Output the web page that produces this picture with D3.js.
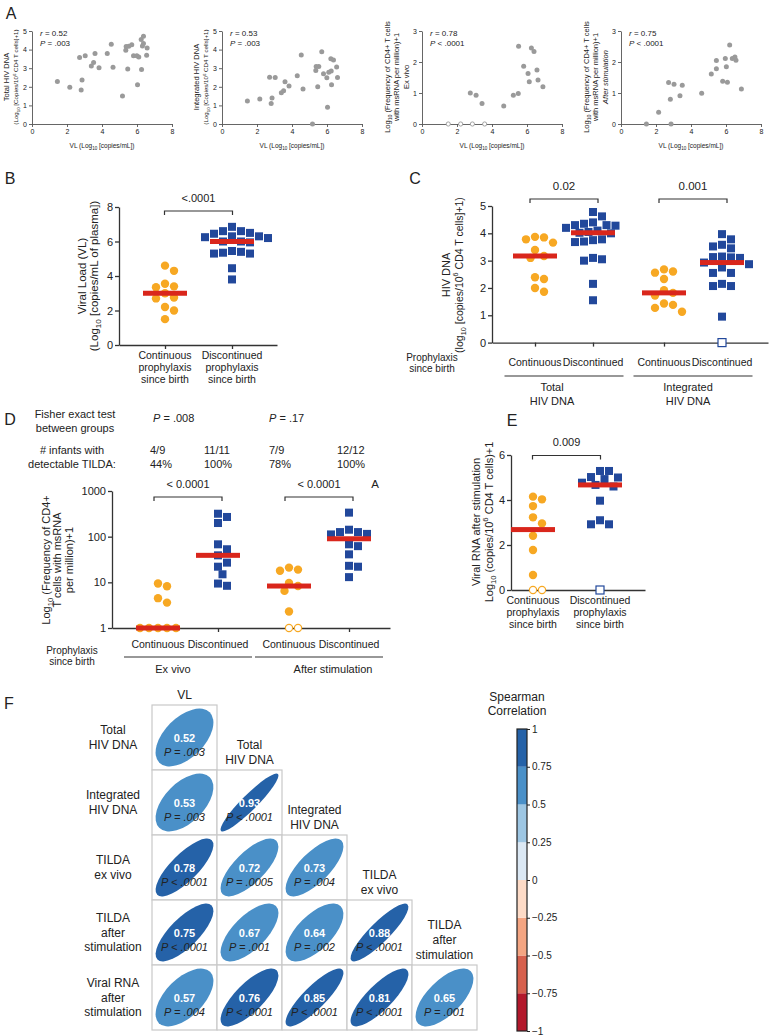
<!DOCTYPE html>
<html>
<head>
<meta charset="utf-8">
<script src="https://cdn.jsdelivr.net/npm/d3@7"></script>
<style>
  body { margin: 0; background: #fff; }
  svg { display: block; }
</style>
</head>
<body>
<svg id="fig" width="771" height="1036"></svg>
<script>
// ---------------- data ----------------
// panel A : [VL, value]
const aTotal = [[1.45,2.29],[2.16,1.97],[2.72,3.58],[2.86,2.36],[2.81,1.83],[3.04,3.67],[3.39,3.12],[3.52,3.3],[3.6,3.79],[3.83,3.03],[4.3,3.79],[4.53,4.29],[4.63,3.05],[5.17,1.51],[5.36,3.97],[5.38,4.17],[5.47,2.96],[5.53,4.18],[5.7,4.26],[5.8,3.67],[5.99,3.67],[6.03,2.11],[6.1,3.6],[6.24,4.54],[6.31,4.2],[6.37,4.72],[6.26,2.93],[6.37,4.33],[6.58,4.08],[6.55,3.7]];
const aIntegrated = [[1.45,1.24],[2.16,1.35],[2.72,2.52],[2.86,1.4],[2.81,1.1],[3.04,2.5],[3.39,1.68],[3.52,1.79],[3.6,2.27],[3.83,2.04],[4.3,2.6],[4.53,3.71],[4.63,1.88],[5.17,0],[5.36,2.87],[5.38,3.09],[5.47,2.0],[5.53,3.09],[5.7,3.88],[5.8,2.7],[5.99,2.48],[6.03,0.9],[6.1,2.78],[6.22,3.51],[6.24,2.85],[6.26,2.11],[6.37,3.44],[6.55,3.07],[6.6,2.5]];
const aTildaEx = [[2.76,1.0],[3.09,0.93],[3.43,0.66],[4.67,0.58],[5.22,0.93],[5.5,0.98],[5.52,2.51],[5.81,1.86],[6.06,1.63],[6.13,1.36],[6.25,2.45],[6.4,2.34],[6.57,1.74],[6.63,1.42],[6.91,1.2]];
const aTildaExUndet = [[1.5,0],[2.21,0],[2.88,0],[3.58,0]];
const aTildaStim = [[1.45,0],[2.15,0.38],[2.72,1.34],[2.82,0.8],[2.86,0],[3.03,1.28],[3.37,0.91],[3.5,1.25],[4.61,0.99],[5.16,1.61],[5.45,2.05],[5.45,1.78],[5.81,1.38],[5.96,2.11],[6.02,1.85],[6.08,1.35],[6.21,2.55],[6.36,2.11],[6.51,2.16],[6.57,2.06],[6.88,1.13]];
const aXTicks = [0, 2, 4, 6, 8];
const aXLabel = "VL (Log_{10} [copies/mL])";
const aYLabels = [
  ["Total HIV DNA", "(Log_{10} [Copies/10^{6} CD4 T cells]+1)"],
  ["Integrated HIV DNA", "(Log_{10} [Copies/10^{6} CD4 T cells]+1)"],
  ["Log_{10} (Frequency of CD4+ T cells", "with msRNA per million)+1", "Ex vivo"],
  ["Log_{10} (Frequency of CD4+ T cells", "with msRNA per million)+1", "*After stimulation*"]
];
const aStats = [["*r* = 0.52", "*P* = .003"], ["*r* = 0.53", "*P* = .003"], ["*r* = 0.78", "*P* < .0001"], ["*r* = 0.75", "*P* < .0001"]];

// panel B
const bCats = ["Continuous\nprophylaxis\nsince birth", "Discontinued\nprophylaxis\nsince birth"];
const bContinuous = [4.6, 4.3, 3.55, 3.4, 3.35, 3.0, 2.75, 2.7, 2.2, 2.0, 1.5];
const bDiscontinued = [6.85, 6.6, 6.6, 6.5, 6.45, 6.3, 6.3, 6.25, 6.2, 6.0, 6.0, 5.95, 5.45, 5.4, 5.35, 5.3, 5.3, 4.45, 3.8];
const bYTicks = [0, 2, 4, 6, 8];
const bPval = "<.0001";

// panel C
const cGroups = ["Total\nHIV DNA", "Integrated\nHIV DNA"];
const cCats = ["Continuous", "Discontinued"];
const cTotalCont = [3.87, 3.85, 3.78, 3.66, 3.39, 3.17, 3.1, 2.39, 2.33, 2.0, 1.86];
const cTotalDisc = [4.78, 4.62, 4.4, 4.35, 4.3, 4.3, 4.28, 4.2, 4.1, 4.05, 4.02, 4.0, 3.78, 3.75, 3.7, 3.68, 3.1, 3.05, 3.0, 2.15, 1.55];
const cIntCont = [2.68, 2.6, 2.56, 2.33, 1.92, 1.82, 1.72, 1.43, 1.38, 1.27, 1.13];
const cIntDisc = [3.97, 3.78, 3.58, 3.52, 3.45, 3.15, 3.13, 3.12, 3.1, 2.93, 2.87, 2.75, 2.55, 2.55, 2.15, 2.07, 2.07, 0.95];
const cIntDiscUndet = [0];
const cYTicks = [0, 1, 2, 3, 4, 5];
const cPvals = ["0.02", "0.001"];

// panel D
const dGroups = ["Ex vivo", "After stimulation"];
const dExCont = [9.4, 8.2, 4.5, 3.6, 1, 1, 1, 1, 1];
const dExDisc = [318, 270, 199, 68, 53, 39, 27, 22, 15, 9.4, 8.4];
const dStimCont = [21, 19, 18, 9.7, 8.3, 6.5, 2.3];
const dStimContUndet = [1, 1];
const dStimDisc = [336, 142, 126, 126, 115, 112, 68, 62, 41, 23, 22, 13];
const dYTicks = [1, 10, 100, 1000];
const dPvals = ["< 0.0001", "< 0.0001"];
const dFisher = ["*P* = .008", "*P* = .17"];
const dCounts = ["4/9", "11/11", "7/9", "12/12"];
const dPercents = ["44%", "100%", "78%", "100%"];

// panel E
const eCats = bCats;
const eCont = [4.15, 4.03, 3.73, 3.23, 2.96, 2.41, 1.78, 0.67];
const eContUndet = [0, 0];
const eDisc = [5.29, 5.29, 5.02, 5.0, 4.93, 4.77, 4.67, 4.6, 3.97, 3.1, 2.92, 2.92];
const eDiscUndet = [0];
const eYTicks = [0, 2, 4, 6];
const ePval = "0.009";

// panel F
const fRowLabels = [["Total", "HIV DNA"], ["Integrated", "HIV DNA"], ["TILDA", "ex vivo"], ["TILDA", "after", "stimulation"], ["Viral RNA", "after", "stimulation"]];
const fColLabels = [["VL"], ["Total", "HIV DNA"], ["Integrated", "HIV DNA"], ["TILDA", "ex vivo"], ["TILDA", "after", "stimulation"]];
const fR = [[0.52], [0.53, 0.93], [0.78, 0.72, 0.73], [0.75, 0.67, 0.64, 0.88], [0.57, 0.76, 0.85, 0.81, 0.65]];
const fP = [["P = .003"], ["P = .003", "P < .0001"], ["P < .0001", "P = .0005", "P = .004"],
            ["P < .0001", "P = .001", "P = .002", "P < .0001"], ["P = .004", "P < .0001", "P < .0001", "P < .0001", "P = .001"]];
const legendTicks = [1, 0.75, 0.5, 0.25, 0, -0.25, -0.5, -0.75, -1];
const legendBreaks = [-0.75, -0.5, -0.25, 0, 0.25, 0.5, 0.75];
const rdbu = ["#b2182b", "#d6604d", "#f4a582", "#fddbc7", "#dbe8f4", "#9dc6e3", "#4a90c8", "#2562a8"];

// ---------------- helpers ----------------
const FONT = 'Arial, "Liberation Sans", sans-serif';
const INK = "#222";
const ORANGE = "#f7a823", BLUE = "#22489b", RED = "#d9261c", GRAY = "#9a9a9a";

const svg = d3.select("#fig").attr("font-family", FONT);

// tiny markup: _{sub} ^{sup} *italic*
function rich(t, str, fs) {
  const parts = str.split(/(_\{[^}]*\}|\^\{[^}]*\}|\*[^*]+\*)/).filter(s => s !== "");
  let cur = 0;
  parts.forEach(p => {
    let s = p, off = 0, small = false, ital = false;
    if (p.startsWith("_{")) { s = p.slice(2, -1); off = fs * 0.3; small = true; }
    else if (p.startsWith("^{")) { s = p.slice(2, -1); off = -fs * 0.4; small = true; }
    else if (p[0] === "*") { s = p.slice(1, -1); ital = true; }
    const ts = t.append("tspan").text(s);
    if (off !== cur) ts.attr("dy", off - cur);
    if (small) ts.attr("font-size", fs * 0.7);
    if (ital) ts.attr("font-style", "italic");
    cur = off;
  });
}

// x,y = visual centre of the line
function txt(g, x, y, str, fs, o = {}) {
  const t = g.append("text")
    .attr("font-size", fs)
    .attr("text-anchor", o.anchor || "middle")
    .attr("fill", o.fill || INK);
  if (o.rotate) t.attr("transform", `translate(${x + fs * 0.35},${y}) rotate(-90)`);
  else t.attr("x", x).attr("y", y + fs * 0.35);
  if (o.weight) t.attr("font-weight", o.weight);
  if (o.italic) t.attr("font-style", "italic");
  rich(t, str, fs);
  return t;
}
function lines(g, x, y0, arr, fs, lh, o) {
  arr.forEach((s, i) => txt(g, x, y0 + i * lh, s, fs, o));
}

function styleAxis(g, fs, col, sw) {
  g.attr("font-family", FONT);
  g.selectAll(".domain, .tick line").attr("stroke", col).attr("stroke-width", sw);
  g.selectAll(".tick text").attr("font-size", fs).attr("fill", INK);
}

function yAxis(g, x, scale, ticks, fmt) {
  g.append("g").attr("transform", `translate(${x},0)`)
    .call(d3.axisLeft(scale).tickValues(ticks).tickSize(4).tickSizeOuter(0).tickPadding(2)
      .tickFormat(fmt || d3.format("d")))
    .call(styleAxis, 11, "#333", 1.3);
}
function xAxis(g, y, x0, x1, ticks) {
  const id = d3.scaleLinear().domain([x0, x1]).range([x0, x1]);
  g.append("g").attr("transform", `translate(0,${y})`)
    .call(d3.axisBottom(id).tickValues(ticks).tickSize(4).tickSizeOuter(0).tickFormat(""))
    .call(styleAxis, 11, "#333", 1.3);
}

// deterministic beeswarm
function swarm(points, y, d) {
  const pts = points.map(p => ({ ...p, y: y(p.v) })).sort((a, b) => a.y - b.y);
  const placed = [];
  pts.forEach(p => {
    for (let k = 0; k < 60; k++) {
      const dx = (k % 2 ? 1 : -1) * Math.ceil(k / 2) * d / 2 || 0;
      if (placed.every(q => Math.hypot(q.dx - dx, q.y - p.y) >= d * 0.98)) {
        p.dx = dx; placed.push(p); break;
      }
    }
  });
  return placed;
}

function drawGroup(g, cx, y, vals, undet, shape) {
  const color = shape === "square" ? BLUE : ORANGE;
  const all = vals.concat(undet);
  const pts = swarm(vals.map(v => ({ v, open: false })).concat(undet.map(v => ({ v, open: true }))), y, 9);
  const gg = g.append("g");
  if (shape === "square") {
    gg.selectAll("rect").data(pts).join("rect")
      .attr("x", d => cx + d.dx - 4).attr("y", d => d.y - 4)
      .attr("width", 8).attr("height", 8)
      .attr("fill", d => d.open ? "#fff" : color)
      .attr("stroke", d => d.open ? color : "none").attr("stroke-width", 1.2);
  } else {
    gg.selectAll("circle").data(pts).join("circle")
      .attr("cx", d => cx + d.dx).attr("cy", d => d.y).attr("r", d => d.open ? 3.6 : 4.2)
      .attr("fill", d => d.open ? "#fff" : color)
      .attr("stroke", d => d.open ? color : "none").attr("stroke-width", 1.2);
  }
  gg.append("rect")
    .attr("x", cx - 22).attr("y", y(d3.median(all)) - 2.5)
    .attr("width", 44).attr("height", 5).attr("fill", RED);
}

function bracket(g, xa, xb, y, label, fs) {
  const m = (xa + xb) / 2;
  g.append("path")
    .attr("d", `M${m - 34},${y + 4}V${y}H${m + 34}V${y + 4}`)
    .attr("fill", "none").attr("stroke", "#333").attr("stroke-width", 1.2);
  txt(g, m, y - 13, label, fs);
}

// ---------------- panel A ----------------
const gA = svg.append("g");
txt(gA, 11, 13, "A", 16);
const aPlots = [
  { x0: 32, ymax: 5, pts: aTotal, undet: [], ylabSize: [7.5, 6.2] },
  { x0: 222, ymax: 5, pts: aIntegrated, undet: [], ylabSize: [7.5, 6.2] },
  { x0: 422, ymax: 3, pts: aTildaEx, undet: aTildaExUndet, ylabSize: [7.5, 7.5, 7.5] },
  { x0: 621, ymax: 3, pts: aTildaStim, undet: [], ylabSize: [7.5, 7.5, 7.5] }
];
aPlots.forEach((pl, i) => {
  const x = d3.scaleLinear().domain([0, 8]).range([pl.x0, pl.x0 + 140]);
  const y = d3.scaleLinear().domain([0, pl.ymax]).range([124, 31]);
  gA.append("g").attr("transform", "translate(0,124)")
    .call(d3.axisBottom(x).tickValues(aXTicks).tickSize(3).tickSizeOuter(0).tickPadding(2).tickFormat(d3.format("d")))
    .call(styleAxis, 7, "#555", 0.9);
  gA.append("g").attr("transform", `translate(${pl.x0},0)`)
    .call(d3.axisLeft(y).tickValues(d3.range(0, pl.ymax + 1)).tickSize(3).tickSizeOuter(0).tickPadding(2).tickFormat(d3.format("d")))
    .call(styleAxis, 7, "#555", 0.9);
  gA.append("g").selectAll("circle").data(pl.pts).join("circle")
    .attr("cx", d => x(d[0])).attr("cy", d => y(d[1])).attr("r", 2.5).attr("fill", GRAY);
  gA.append("g").selectAll("circle").data(pl.undet).join("circle")
    .attr("cx", d => x(d[0])).attr("cy", d => y(d[1])).attr("r", 2.1)
    .attr("fill", "#fff").attr("stroke", GRAY).attr("stroke-width", 0.9);
  lines(gA, pl.x0 + 8, 33, aStats[i], 8, 10, { anchor: "start" });
  txt(gA, pl.x0 + 70, 146, aXLabel, 6.5);
  const labs = aYLabels[i], n = labs.length;
  labs.forEach((s, k) => txt(gA, pl.x0 - 16 - (n - 1 - k) * 9.3, 77, s, pl.ylabSize[k], { rotate: true }));
});

// ---------------- panel B ----------------
const gB = svg.append("g");
txt(gB, 10, 178, "B", 16);
const bY = d3.scaleLinear().domain([0, 8]).range([345, 207]);
const bX = d3.scalePoint().domain(bCats).range([165, 232]);
yAxis(gB, 119, bY, bYTicks);
xAxis(gB, 345, 119, 277, bCats.map(bX));
drawGroup(gB, bX(bCats[0]), bY, bContinuous, [], "circle");
drawGroup(gB, bX(bCats[1]), bY, bDiscontinued, [], "square");
bracket(gB, bX(bCats[0]), bX(bCats[1]), 211, bPval, 11);
bCats.forEach(c => lines(gB, bX(c), 355, c.split("\n"), 10.5, 12));
txt(gB, 82, 276, "Viral Load (VL)", 11.5, { rotate: true });
txt(gB, 94, 276, "(Log_{10} [copies/mL of plasma])", 11.5, { rotate: true });

// ---------------- panel C ----------------
const gC = svg.append("g");
txt(gC, 415, 178, "C", 16);
const cY = d3.scaleLinear().domain([0, 5]).range([342.6, 206]);
const cOuter = d3.scalePoint().domain(cGroups).range([564, 693]);
const cInner = d3.scalePoint().domain(cCats).range([-29, 29]);
const cSeries = [
  [cTotalCont, [], "circle"], [cTotalDisc, [], "square"],
  [cIntCont, [], "circle"], [cIntDisc, cIntDiscUndet, "square"]
];
const cPos = [];
cGroups.forEach(gr => cCats.forEach(ct => cPos.push(cOuter(gr) + cInner(ct))));
yAxis(gC, 492, cY, cYTicks);
xAxis(gC, 342.6, 492, 768, cPos);
cSeries.forEach((s, i) => drawGroup(gC, cPos[i], cY, s[0], s[1], s[2]));
const cLabelShift = [-12, -5];
cGroups.forEach((gr, i) => {
  bracket(gC, cPos[2 * i], cPos[2 * i + 1], 199, cPvals[i], 11.5);
  cCats.forEach(ct => txt(gC, cOuter(gr) + cInner(ct), 362, ct, 10.5));
  gC.append("line").attr("x1", cOuter(gr) - 59.5).attr("x2", cOuter(gr) + 59.5)
    .attr("y1", 376).attr("y2", 376).attr("stroke", "#333").attr("stroke-width", 1.2);
  lines(gC, cOuter(gr) + cLabelShift[i], 387, gr.split("\n"), 11, 14);
});
lines(gC, 432, 357, ["Prophylaxis", "since birth"], 10, 11.5);
txt(gC, 446, 275, "HIV DNA", 11, { rotate: true });
txt(gC, 459, 275, "(log_{10} [copies/10^{6} CD4 T cells]+1)", 10.5, { rotate: true });

// ---------------- panel D ----------------
const gD = svg.append("g");
txt(gD, 10, 419, "D", 16);
lines(gD, 75, 414, ["Fisher exact test", "between groups"], 11, 14);
lines(gD, 72, 450, ["# infants with", "detectable TILDA:"], 11, 14);
const dFisherX = [153, 269];
const dCountX = [150, 204, 269, 337];
dFisher.forEach((s, i) => txt(gD, dFisherX[i], 418, s, 11, { anchor: "start" }));
dCounts.forEach((s, i) => txt(gD, dCountX[i], 450, s, 11, { anchor: "start" }));
dPercents.forEach((s, i) => txt(gD, dCountX[i], 464, s, 11, { anchor: "start" }));

const dY = d3.scaleLog().domain([1, 1000]).range([628, 491]);
const dOuter = d3.scalePoint().domain(dGroups).range([188, 319]);
const dInner = d3.scalePoint().domain(cCats).range([-30, 30]);
const dPos = [];
dGroups.forEach(gr => cCats.forEach(ct => dPos.push(dOuter(gr) + dInner(ct))));
yAxis(gD, 112, dY, dYTicks);
xAxis(gD, 628, 112, 390, dPos);
const dSeries = [
  [dExCont, [], "circle"], [dExDisc, [], "square"],
  [dStimCont, dStimContUndet, "circle"], [dStimDisc, [], "square"]
];
dSeries.forEach((s, i) => drawGroup(gD, dPos[i], dY, s[0], s[1], s[2]));
const dLabelShift = [-15, 14];
dGroups.forEach((gr, i) => {
  bracket(gD, dPos[2 * i], dPos[2 * i + 1], 497, dPvals[i], 11);
  cCats.forEach(ct => txt(gD, dOuter(gr) + dInner(ct), 644, ct, 10.5));
  gD.append("line").attr("x1", dOuter(gr) - 64).attr("x2", dOuter(gr) + 64)
    .attr("y1", 657).attr("y2", 657).attr("stroke", "#333").attr("stroke-width", 1.2);
  txt(gD, dOuter(gr) + dLabelShift[i], 669, gr, 11);
});
txt(gD, 375, 484, "A", 11.5);
lines(gD, 72, 650, ["Prophylaxis", "since birth"], 10, 11.5);
txt(gD, 46, 560, "Log_{10} (Frequency of CD4+", 11, { rotate: true });
txt(gD, 57.5, 560, "T cells with msRNA", 11, { rotate: true });
txt(gD, 69, 560, "per million)+1", 11, { rotate: true });

// ---------------- panel E ----------------
const gE = svg.append("g");
txt(gE, 512, 420, "E", 16);
const eY = d3.scaleLinear().domain([0, 6]).range([590, 455]);
const eX = d3.scalePoint().domain(eCats).range([533, 600]);
yAxis(gE, 511, eY, eYTicks);
xAxis(gE, 590, 511, 645, eCats.map(eX));
drawGroup(gE, eX(eCats[0]), eY, eCont, eContUndet, "circle");
drawGroup(gE, eX(eCats[1]), eY, eDisc, eDiscUndet, "square");
bracket(gE, eX(eCats[0]), eX(eCats[1]), 455.5, ePval, 11);
eCats.forEach(c => lines(gE, eX(c), 600, c.split("\n"), 10.5, 12));
txt(gE, 476, 522, "Viral RNA after stimulation", 11, { rotate: true });
txt(gE, 489, 522, "Log_{10} (copies/10^{6} CD4 T cells)+1", 11, { rotate: true });

// ---------------- panel F ----------------
const gF = svg.append("g");
txt(gF, 9, 703, "F", 16);
const fIdx = d3.range(fR.length);
const fCol = d3.scaleBand().domain(fIdx).range([152, 477]);
const fRow = d3.scaleBand().domain(fIdx).range([705, 1030]);
const fColor = d3.scaleThreshold().domain(legendBreaks).range(rdbu);
const cw = fCol.bandwidth();
const k = cw * 0.445;

fR.forEach((row, i) => row.forEach((r, j) => {
  const x = fCol(j), y = fRow(i);
  const cg = gF.append("g").attr("transform", `translate(${x},${y})`);
  cg.append("rect").attr("width", cw).attr("height", fRow.bandwidth())
    .attr("fill", "#fff").attr("stroke", "#c9c9c9").attr("stroke-width", 1.2);
  cg.append("ellipse")
    .attr("transform", `translate(${cw / 2},${cw / 2}) rotate(-45)`)
    .attr("rx", k * Math.sqrt(1 + r)).attr("ry", k * Math.sqrt(1 - r))
    .attr("fill", fColor(r));
  txt(cg, cw / 2, cw / 2 + 1, d3.format(".2f")(r), 11, { fill: "#fff", weight: "bold" });
  txt(cg, cw / 2, cw / 2 + 14.5, fP[i][j], 11, { italic: true });
}));
fRowLabels.forEach((lab, i) => {
  const cy = fRow(i) + fRow.bandwidth() / 2 - (lab.length - 1) * 14.5 / 2;
  lines(gF, 113, cy, lab, 12, 14.5);
});
fColLabels.forEach((lab, j) => {
  const bottom = fRow(j) - 10;
  lines(gF, fCol(j) + cw / 2, bottom - (lab.length - 1) * 15, lab, 12, 15);
});

// colour legend
const lg = gF.append("g");
const lY = d3.scaleLinear().domain([-1, 1]).range([1031, 729]);
const edges = [-1].concat(legendBreaks, [1]);
lg.selectAll("rect.bin").data(d3.pairs(edges)).join("rect").attr("class", "bin")
  .attr("x", 517).attr("width", 10)
  .attr("y", d => lY(d[1])).attr("height", d => lY(d[0]) - lY(d[1]))
  .attr("fill", d => fColor((d[0] + d[1]) / 2));
lg.append("rect").attr("x", 517).attr("y", lY(1)).attr("width", 10).attr("height", lY(-1) - lY(1))
  .attr("fill", "none").attr("stroke", "#222").attr("stroke-width", 1.2);
lg.append("g").attr("transform", "translate(527,0)")
  .call(d3.axisRight(lY).tickValues(legendTicks).tickSize(3).tickSizeOuter(0).tickPadding(2).tickFormat(d3.format("")))
  .call(styleAxis, 10, "#222", 1)
  .select(".domain").remove();
lines(lg, 517, 697, ["Spearman", "Correlation"], 12, 14);
</script>
</body>
</html>
